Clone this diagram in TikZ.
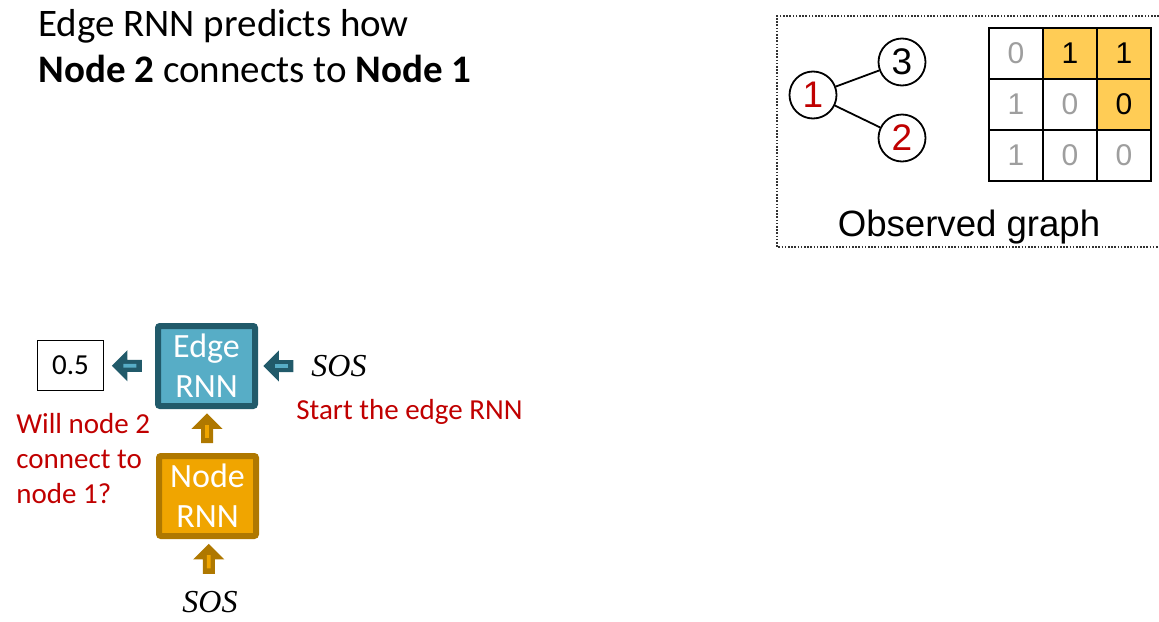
\documentclass[tikz,border=0pt]{standalone}
\usepackage{fontspec}
\usepackage{tikz}
\usepackage{xcolor}
\usetikzlibrary{calc}
\usetikzlibrary{shapes.arrows}
\setmainfont{Carlito}
\newfontfamily\arialfont{Liberation Sans}
\newfontfamily\timesfont{Liberation Serif}
\definecolor{edgecolore}{HTML}{57ADC6}
\definecolor{edgeborder}{HTML}{215A6A}
\definecolor{nodecolore}{HTML}{F0A500}
\definecolor{nodeborder}{HTML}{AF7800}
\definecolor{hred}{HTML}{C00000}
\definecolor{hyellow}{HTML}{FFCC55}
\colorlet{greyc}{black!38}
\tikzstyle{rnnbox} = [
    rectangle,
    line width=3pt,
    rounded corners=1pt,
    minimum width=48.5pt,
    minimum height=40pt,
    inner sep=0pt,
    text=white,
    align=center,
    font=\fontsize{17}{20}\selectfont
    ]
\tikzstyle{fatarrow} = [
    single arrow,
    line width=0.8pt,
    minimum height=14pt,
    inner sep=2.2pt,
    single arrow head extend=4.2pt,
    single arrow tip angle=90
    ]
\tikzstyle{gnode} = [
    circle,
    draw,
    fill=white,
    line width=0.9pt,
    minimum size=23.5pt,
    inner sep=0pt,
    font=\arialfont\fontsize{18.5}{18.5}\selectfont
    ]
\tikzstyle{cell} = [
    rectangle,
    draw,
    line width=1.1pt,
    minimum width=27pt,
    minimum height=25.5pt,
    inner sep=0pt,
    font=\arialfont\fontsize{15}{15}\selectfont
    ]
\tikzstyle{redtext} = [
    text=hred,
    inner sep=0pt,
    font=\fontsize{14.5}{17.5}\selectfont
    ]
\tikzstyle{sostext} = [
    font=\timesfont\itshape\fontsize{16}{18}\selectfont
    ]
\begin{document}
\begin{tikzpicture}[x=0.5pt,y=-0.5pt]
\useasboundingbox (0,0) rectangle (1159,621);
% title
\node[anchor=base west, inner sep=0pt, font=\fontsize{19.5}{23}\selectfont] (title1) at (38,36) {Edge RNN predicts how};
\node[anchor=base west, inner sep=0pt, font=\fontsize{19.5}{23}\selectfont] (title2) at (38,82) {\textbf{Node 2} connects to \textbf{Node 1}};

% observed graph
\draw[black!80, line width=0.9pt, dash pattern=on 0.8pt off 0.8pt] (1159,16) -- (777,16) -- (777,247) -- (1159,247);
\node[gnode, text=hred] (g1) at (813,95) {1};
\node[gnode] (g3) at (902,62) {3};
\node[gnode, text=hred] (g2) at (902,138) {2};
\draw[line width=0.9pt] (g1) -- (g3);
\draw[line width=0.9pt] (g1) -- (g2);
\foreach \r/\c/\v/\fc/\tc in {1/1/0/white/greyc, 1/2/1/hyellow/black, 1/3/1/hyellow/black,
    2/1/1/white/greyc, 2/2/0/white/greyc, 2/3/0/hyellow/black,
    3/1/1/white/greyc, 3/2/0/white/greyc, 3/3/0/white/greyc}
    \node[cell, fill=\fc, text=\tc] (m-\r-\c) at ({1016+54*(\c-1)},{53.5+51*(\r-1)}) {\v};
\node[anchor=base, inner sep=0pt, font=\arialfont\fontsize{18.3}{20}\selectfont] (caption) at (969,236) {Observed graph};

% RNN step
\node[rnnbox, draw=edgeborder, fill=edgecolore] (edge) at (206.5,366) {Edge\\RNN};
\node[rnnbox, draw=nodeborder, fill=nodecolore] (noderes) at (207.5,496) {Node\\RNN};
\node[draw, line width=0.8pt, minimum width=33pt, minimum height=25pt, font=\fontsize{14.5}{17}\selectfont] (prob) at (70.5,365.5) {0.5};
\node[sostext] (sosedge) at (339,366) {SOS};
\node[sostext] (sosnode) at (210,602) {SOS};
\node[fatarrow, draw=edgeborder, fill=edgeborder, shape border rotate=180] (arrowout) at ($(prob.east)!0.5!(edge.west)$) {};
\node[fatarrow, draw=edgeborder, fill=edgeborder, shape border rotate=180] (arrowin) at ($(edge.east)!0.5!(sosedge.west)$) {};
\node[fatarrow, draw=nodeborder, fill=nodeborder, shape border rotate=90] (arrowup) at ($(noderes.north)!0.5!(edge.south)$) {};
\node[fatarrow, draw=nodeborder, fill=nodeborder, shape border rotate=90] (arrowsos) at ($(sosnode.north)!0.5!(noderes.south)$) {};
% light stripe inside each arrow
\foreach \a/\col in {arrowout/edgecolore, arrowin/edgecolore, arrowup/nodecolore, arrowsos/nodecolore}
    \draw[\col, line width=1.9pt] ($(\a.tail)!0.18!(\a.tip)$) -- ($(\a.tail)!0.62!(\a.tip)$);
\node[redtext, anchor=west] (starttext) at (296,412) {Start the edge RNN};
\node[redtext, anchor=north west, align=left] (question) at (16,413) {Will node 2\\connect to\\node 1?};
\end{tikzpicture}
\end{document}
